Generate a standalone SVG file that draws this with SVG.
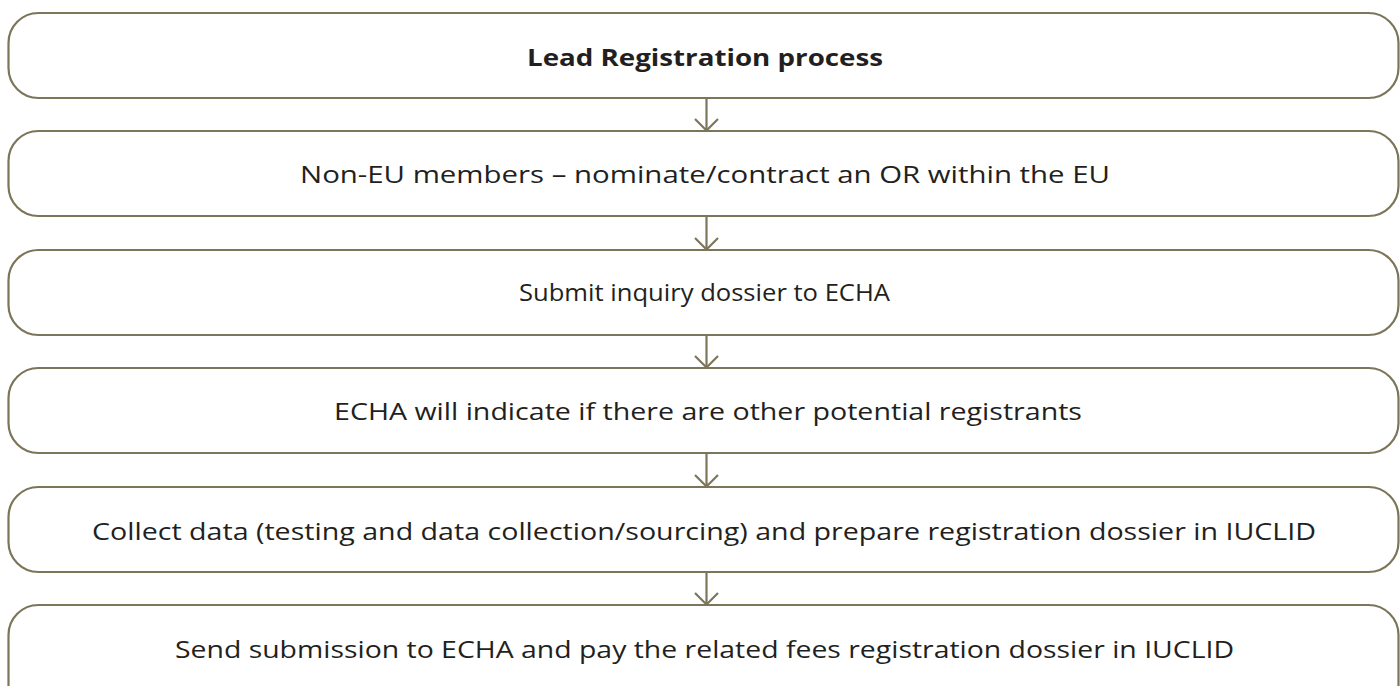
<svg xmlns="http://www.w3.org/2000/svg" width="1400" height="686" viewBox="0 0 1400 686">
  <style>
    .box { fill: #ffffff; stroke: #7b7659; stroke-width: 2.2; }
    .lbl { font-family: "Open Sans", "Liberation Sans", sans-serif; font-size: 24px; fill: #231f20; text-anchor: middle; }
    .bold { font-weight: 700; }
    .conn { stroke: #7b7659; stroke-width: 2.2; fill: none; }
  </style>
  <defs>
    <!-- open chevron arrowhead, tip on the line end -->
    <marker id="chevron" viewBox="-14 -14 16 28" refX="0" refY="0" markerWidth="16" markerHeight="28" markerUnits="userSpaceOnUse" orient="auto">
      <path d="M-11.5,-11.5 L0,0 L-11.5,11.5" fill="none" stroke="#7b7659" stroke-width="2.2"/>
    </marker>
  </defs>
  <rect width="1400" height="686" fill="#ffffff"/>

  <g id="connectors">
    <line class="conn" x1="706.5" y1="98" x2="706.5" y2="130.5" marker-end="url(#chevron)"/>
    <line class="conn" x1="706.5" y1="216" x2="706.5" y2="249.5" marker-end="url(#chevron)"/>
    <line class="conn" x1="706.5" y1="335" x2="706.5" y2="367.5" marker-end="url(#chevron)"/>
    <line class="conn" x1="706.5" y1="453" x2="706.5" y2="486.5" marker-end="url(#chevron)"/>
    <line class="conn" x1="706.5" y1="572" x2="706.5" y2="604.5" marker-end="url(#chevron)"/>
  </g>

  <g id="node-lead">
    <rect class="box" x="8.5" y="13" width="1390" height="85" rx="30" ry="30"/>
    <text class="lbl bold" x="705" y="66" textLength="356" lengthAdjust="spacingAndGlyphs">Lead Registration process</text>
  </g>
  <g id="node-or">
    <rect class="box" x="8.5" y="131" width="1390" height="85" rx="30" ry="30"/>
    <text class="lbl" x="705" y="183" textLength="810" lengthAdjust="spacingAndGlyphs">Non-EU members – nominate/contract an OR within the EU</text>
  </g>
  <g id="node-inquiry">
    <rect class="box" x="8.5" y="250" width="1390" height="85" rx="30" ry="30"/>
    <text class="lbl" x="704.5" y="301" textLength="371" lengthAdjust="spacingAndGlyphs">Submit inquiry dossier to ECHA</text>
  </g>
  <g id="node-registrants">
    <rect class="box" x="8.5" y="368" width="1390" height="85" rx="30" ry="30"/>
    <text class="lbl" x="708" y="420" textLength="748" lengthAdjust="spacingAndGlyphs">ECHA will indicate if there are other potential registrants</text>
  </g>
  <g id="node-collect">
    <rect class="box" x="8.5" y="487" width="1390" height="85" rx="30" ry="30"/>
    <text class="lbl" x="704" y="540" textLength="1224" lengthAdjust="spacingAndGlyphs">Collect data (testing and data collection/sourcing) and prepare registration dossier in IUCLID</text>
  </g>
  <g id="node-submit">
    <rect class="box" x="8.5" y="605" width="1390" height="110" rx="30" ry="30"/>
    <text class="lbl" x="704.5" y="658" textLength="1059" lengthAdjust="spacingAndGlyphs">Send submission to ECHA and pay the related fees registration dossier in IUCLID</text>
  </g>
</svg>
